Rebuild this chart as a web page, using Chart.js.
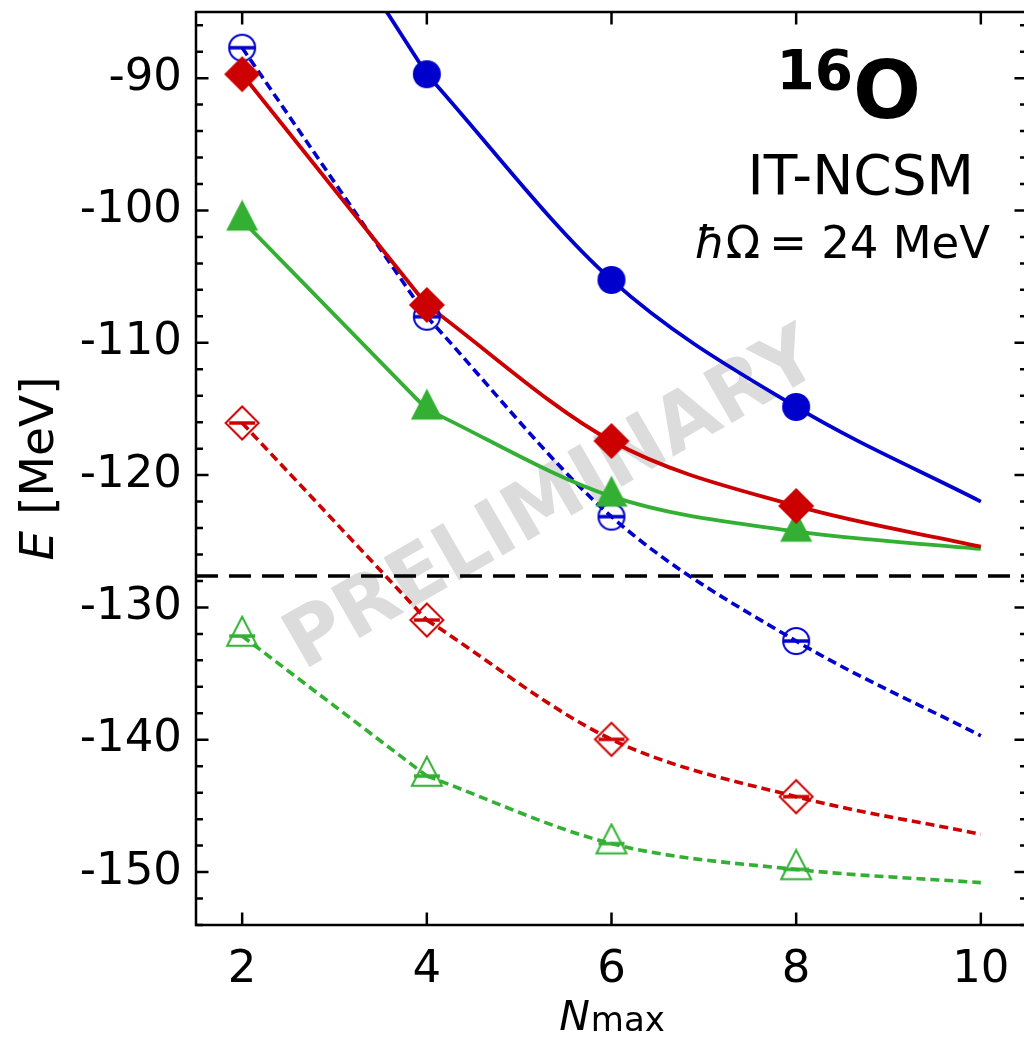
<!DOCTYPE html>
<html>
<head>
<meta charset="utf-8">
<script src="https://cdn.jsdelivr.net/npm/chart.js@4.4.1/dist/chart.umd.min.js"></script>
<style>
  html, body { margin: 0; padding: 0; background: #fff; overflow: hidden; }
  #area { width: 1038px; height: 1039px; }
</style>
</head>
<body>
<div id="area"><canvas id="grafico" width="1038" height="1039"></canvas></div>
<script>
//////// dados
// eixo x: N_max
const nmax = [2, 4, 6, 8];
const nmaxCurva = [2, 4, 6, 8, 10];
const xTicks = [2, 4, 6, 8, 10];
const yTicks = [-150, -140, -130, -120, -110, -100, -90];

// energias calculadas (MeV)
const azulCheio = [null, -89.7, -105.25, -114.85];
const vermelhoCheio = [-89.7, -107.14, -117.42, -122.33];
const verdeCheio = [-100.75, -115.03, -121.61, -124.26];
const azulVazio = [-87.7, -108.03, -123.14, -132.54];
const vermelhoVazio = [-116.06, -130.95, -139.97, -144.3];
const verdeVazio = [-132.16, -142.74, -147.85, -149.8];

// curvas (trecho 2-4 reto, depois a extrapolacao ate N_max = 10)
const curvaAzulCheio = [-68.0, -89.7, -105.25, -114.85, -122.0];
const curvaVermelhoCheio = [-89.7, -107.14, -117.42, -122.33, -125.41];
const curvaVerdeCheio = [-100.75, -115.03, -121.61, -124.26, -125.58];
const curvaAzulVazio = [-87.7, -108.03, -123.14, -132.54, -139.7];
const curvaVermelhoVazio = [-116.06, -130.95, -139.97, -144.3, -147.14];
const curvaVerdeVazio = [-132.16, -142.74, -147.85, -149.8, -150.8];

// valor experimental
const eExp = -127.62;

const AZUL = '#0000cc';
const VERMELHO = '#cc0000';
const VERDE = '#33b033';
const FONTE = '"DejaVu Sans"';

//////// marcadores desenhados num canvas proprio
function marcador(forma, cor, cheio) {
  const c = document.createElement('canvas');
  c.width = 42;
  c.height = 42;
  const g = c.getContext('2d');
  const m = 21;
  g.fillStyle = cor;
  g.strokeStyle = cor;
  g.lineWidth = 2;
  g.beginPath();
  if (forma === 'circulo') {
    g.arc(m, m, cheio ? 14 : 13, 0, Math.PI * 2);
  } else if (forma === 'losango') {
    const r = cheio ? 18 : 16.5;
    g.moveTo(m, m - r);
    g.lineTo(m + r, m);
    g.lineTo(m, m + r);
    g.lineTo(m - r, m);
    g.closePath();
  } else {
    // triangulo com o centroide no ponto
    const w = cheio ? 32 : 30, h = cheio ? 31 : 29;
    g.moveTo(m, m - 2 * h / 3);
    g.lineTo(m + w / 2, m + h / 3);
    g.lineTo(m - w / 2, m + h / 3);
    g.closePath();
  }
  if (cheio) g.fill(); else g.stroke();
  if (!cheio) {
    // barrinha de erro
    g.lineWidth = 3.5;
    g.beginPath();
    g.moveTo(m - 13, m);
    g.lineTo(m + 13, m);
    g.stroke();
  }
  return c;
}

function pontos(xs, ys) {
  return xs.map((x, i) => ({ x: x, y: ys[i] })).filter(p => p.y !== null);
}

function serieMarcador(valores, forma, cor, cheio) {
  return {
    type: 'scatter',
    data: pontos(nmax, valores),
    pointStyle: marcador(forma, cor, cheio),
    pointRadius: 10,
    showLine: false
  };
}

// cada curva vira dois datasets: o segmento 2-4 e a parte curva 4-10
function serieCurva(valores, cor, tracejada) {
  const base = {
    type: 'line',
    borderColor: cor,
    borderWidth: tracejada ? 3.6 : 3.8,
    borderDash: tracejada ? [9, 5] : [],
    pointRadius: 0,
    fill: false
  };
  const todos = pontos(nmaxCurva, valores);
  return [
    Object.assign({}, base, { data: todos.slice(0, 2), tension: 0 }),
    Object.assign({}, base, { data: todos.slice(1), cubicInterpolationMode: 'monotone' })
  ];
}

//////// plugins
const marcaDagua = {
  id: 'marcaDagua',
  beforeDatasetsDraw(chart) {
    const { ctx, chartArea: a, scales: { y } } = chart;
    const w = a.right - a.left, h = a.bottom - a.top;
    ctx.save();
    ctx.translate(a.left + 0.43 * w, a.top + 0.537 * h);
    ctx.rotate(-30 * Math.PI / 180);
    ctx.font = 'bold 79px ' + FONTE;
    ctx.fillStyle = '#dcdcdc';
    ctx.textAlign = 'center';
    ctx.textBaseline = 'middle';
    ctx.fillText('PRELIMINARY', 0, 0);
    ctx.restore();

    // linha tracejada do valor experimental
    const py = y.getPixelForValue(eExp);
    ctx.save();
    ctx.strokeStyle = '#000';
    ctx.lineWidth = 3.5;
    ctx.setLineDash([22, 11]);
    ctx.beginPath();
    ctx.moveTo(a.left, py);
    ctx.lineTo(a.right, py);
    ctx.stroke();
    ctx.restore();
  }
};

const moldura = {
  id: 'moldura',
  afterDraw(chart) {
    const { ctx, chartArea: a, scales: { x, y } } = chart;
    ctx.save();
    ctx.strokeStyle = '#000';
    ctx.lineWidth = 2.5;
    ctx.strokeRect(a.left, a.top, a.right - a.left, a.bottom - a.top);
    ctx.beginPath();
    xTicks.forEach(v => {
      const px = x.getPixelForValue(v);
      ctx.moveTo(px, a.bottom);
      ctx.lineTo(px, a.bottom - 12.5);
      ctx.moveTo(px, a.top);
      ctx.lineTo(px, a.top + 12.5);
    });
    for (let v = -154; v <= -85; v += 2) {
      const py = y.getPixelForValue(v);
      const len = v % 10 === 0 ? 12.5 : 7;
      ctx.moveTo(a.left, py);
      ctx.lineTo(a.left + len, py);
      ctx.moveTo(a.right, py);
      ctx.lineTo(a.right - len, py);
    }
    ctx.stroke();
    ctx.restore();
  }
};

const textos = {
  id: 'textos',
  afterDraw(chart) {
    const { ctx, chartArea: a } = chart;
    const w = a.right - a.left, h = a.bottom - a.top;
    ctx.save();
    ctx.fillStyle = '#000';
    ctx.textBaseline = 'alphabetic';

    // 16O
    ctx.font = 'bold 55px ' + FONTE;
    const w16 = ctx.measureText('16').width;
    ctx.font = 'bold 80px ' + FONTE;
    const wO = ctx.measureText('O').width;
    let x0 = a.left + 0.7855 * w - (w16 + wO) / 2;
    const yO = a.top + 0.1161 * h;
    ctx.textAlign = 'left';
    ctx.font = 'bold 55px ' + FONTE;
    ctx.fillText('16', x0, yO - 29);
    ctx.font = 'bold 80px ' + FONTE;
    ctx.fillText('O', x0 + w16, yO);

    // metodo
    ctx.font = '55px ' + FONTE;
    ctx.textAlign = 'center';
    ctx.fillText('IT-NCSM', a.left + 0.80 * w, a.top + 0.1993 * h);

    // hbar Omega
    const resto = 'Ω\u2009= 24 MeV';
    ctx.font = 'italic 45px ' + FONTE;
    const wh = ctx.measureText('ħ').width;
    ctx.font = '45px ' + FONTE;
    const wr = ctx.measureText(resto).width;
    x0 = a.left + 0.7777 * w - (wh + wr) / 2;
    const yh = a.top + 0.2694 * h;
    ctx.textAlign = 'left';
    ctx.font = 'italic 45px ' + FONTE;
    ctx.fillText('ħ', x0, yh);
    ctx.font = '45px ' + FONTE;
    ctx.fillText(resto, x0 + wh, yh);

    // titulo do eixo x: N_max
    ctx.font = 'italic 41px ' + FONTE;
    const wN = ctx.measureText('N').width;
    ctx.font = '34px ' + FONTE;
    const wMax = ctx.measureText('max').width;
    x0 = (a.left + a.right) / 2 - (wN + wMax) / 2;
    ctx.font = 'italic 41px ' + FONTE;
    ctx.fillText('N', x0, 1030);
    ctx.font = '34px ' + FONTE;
    ctx.fillText('max', x0 + wN + 1, 1031);

    // titulo do eixo y: E [MeV]
    ctx.translate(52.5, (a.top + a.bottom) / 2);
    ctx.rotate(-Math.PI / 2);
    ctx.font = 'italic 47px ' + FONTE;
    const wE = ctx.measureText('E').width;
    ctx.font = '47px ' + FONTE;
    const wU = ctx.measureText('[MeV]').width;
    const gap = 16;
    const s = -(wE + gap + wU) / 2;
    ctx.font = 'italic 47px ' + FONTE;
    ctx.fillText('E', s, 0);
    ctx.font = '47px ' + FONTE;
    ctx.fillText('[MeV]', s + wE + gap, 0);
    ctx.restore();
  }
};

//////// grafico
const datasets = [
  serieMarcador(azulCheio, 'circulo', AZUL, true),
  serieMarcador(vermelhoCheio, 'losango', VERMELHO, true),
  serieMarcador(verdeCheio, 'triangulo', VERDE, true),
  serieMarcador(azulVazio, 'circulo', AZUL, false),
  serieMarcador(vermelhoVazio, 'losango', VERMELHO, false),
  serieMarcador(verdeVazio, 'triangulo', VERDE, false),
  ...serieCurva(curvaAzulCheio, AZUL, false),
  ...serieCurva(curvaVermelhoCheio, VERMELHO, false),
  ...serieCurva(curvaVerdeCheio, VERDE, false),
  ...serieCurva(curvaAzulVazio, AZUL, true),
  ...serieCurva(curvaVermelhoVazio, VERMELHO, true),
  ...serieCurva(curvaVerdeVazio, VERDE, true)
];

const ctxGrafico = document.getElementById('grafico').getContext('2d');
new Chart(ctxGrafico, {
  type: 'scatter',
  data: { datasets: datasets },
  options: {
    responsive: false,
    animation: false,
    layout: { padding: { top: 12, right: 6, left: 0, bottom: 0 } },
    plugins: {
      legend: { display: false },
      tooltip: { enabled: false }
    },
    scales: {
      x: {
        type: 'linear',
        min: 1.5,
        max: 10.5,
        grid: { display: false, drawTicks: false },
        border: { display: false },
        ticks: {
          font: { family: 'DejaVu Sans', size: 45 },
          color: '#000',
          padding: 18,
          maxRotation: 0
        },
        afterBuildTicks: s => { s.ticks = xTicks.map(v => ({ value: v })); },
        afterFit: s => {
          s.height = 114;
          s.paddingLeft = 0;
          s.paddingRight = 0;
        }
      },
      y: {
        type: 'linear',
        min: -154,
        max: -85,
        grid: { display: false, drawTicks: false },
        border: { display: false },
        ticks: {
          font: { family: 'DejaVu Sans', size: 45 },
          color: '#000',
          padding: 14
        },
        afterBuildTicks: s => { s.ticks = yTicks.map(v => ({ value: v })); },
        afterFit: s => {
          s.width = 196;
          s.paddingTop = 0;
          s.paddingBottom = 0;
        }
      }
    }
  },
  plugins: [marcaDagua, moldura, textos]
});
</script>
</body>
</html>
